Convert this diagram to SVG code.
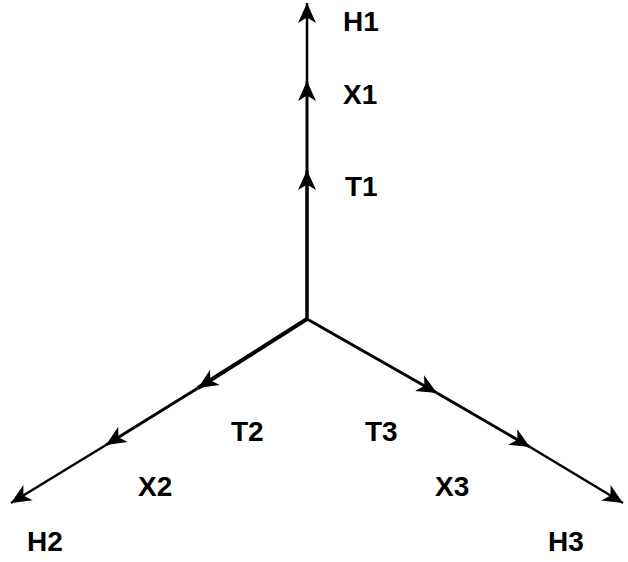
<svg xmlns="http://www.w3.org/2000/svg" width="628" height="562" viewBox="0 0 628 562">
<style>
.ln{fill:none;stroke:#000;stroke-linecap:butt}
.lbl{font-family:"Liberation Sans",Arial,sans-serif;font-weight:bold;font-size:28px;fill:#000}
</style>
<defs>
<marker id="ah" markerUnits="userSpaceOnUse" viewBox="-22 -10 24 20" refX="0" refY="0" markerWidth="24" markerHeight="20" orient="auto">
<path d="M0,0 L-20,-9 L-14.5,0 L-20,9 Z" fill="#000"/>
</marker>
</defs>
<rect width="628" height="562" fill="#fff"/>
<g id="connectors">
<path class="ln" d="M307,319 L307,170" stroke-width="3.5" marker-end="url(#ah)"/>
<path class="ln" d="M307,170 L307,81" stroke-width="3" marker-end="url(#ah)"/>
<path class="ln" d="M307,81 L307,3" stroke-width="2.5" marker-end="url(#ah)"/>
<path class="ln" d="M307,319 L198,388" stroke-width="4" marker-end="url(#ah)"/>
<path class="ln" d="M198,388 L106,445" stroke-width="3" marker-end="url(#ah)"/>
<path class="ln" d="M106,445 L11,503" stroke-width="2.5" marker-end="url(#ah)"/>
<path class="ln" d="M307,319 L437,393" stroke-width="3" marker-end="url(#ah)"/>
<path class="ln" d="M437,393 L530,447" stroke-width="3" marker-end="url(#ah)"/>
<path class="ln" d="M530,447 L623,503" stroke-width="2.5" marker-end="url(#ah)"/>
</g>
<g id="node-H1"><text class="lbl" x="343" y="31">H1</text></g>
<g id="node-X1"><text class="lbl" x="343" y="104">X1</text></g>
<g id="node-T1"><text class="lbl" x="345" y="196">T1</text></g>
<g id="node-T2"><text class="lbl" x="231" y="441">T2</text></g>
<g id="node-X2"><text class="lbl" x="138" y="496">X2</text></g>
<g id="node-H2"><text class="lbl" x="27" y="551">H2</text></g>
<g id="node-T3"><text class="lbl" x="365" y="441">T3</text></g>
<g id="node-X3"><text class="lbl" x="435" y="496">X3</text></g>
<g id="node-H3"><text class="lbl" x="548" y="551">H3</text></g>
</svg>
